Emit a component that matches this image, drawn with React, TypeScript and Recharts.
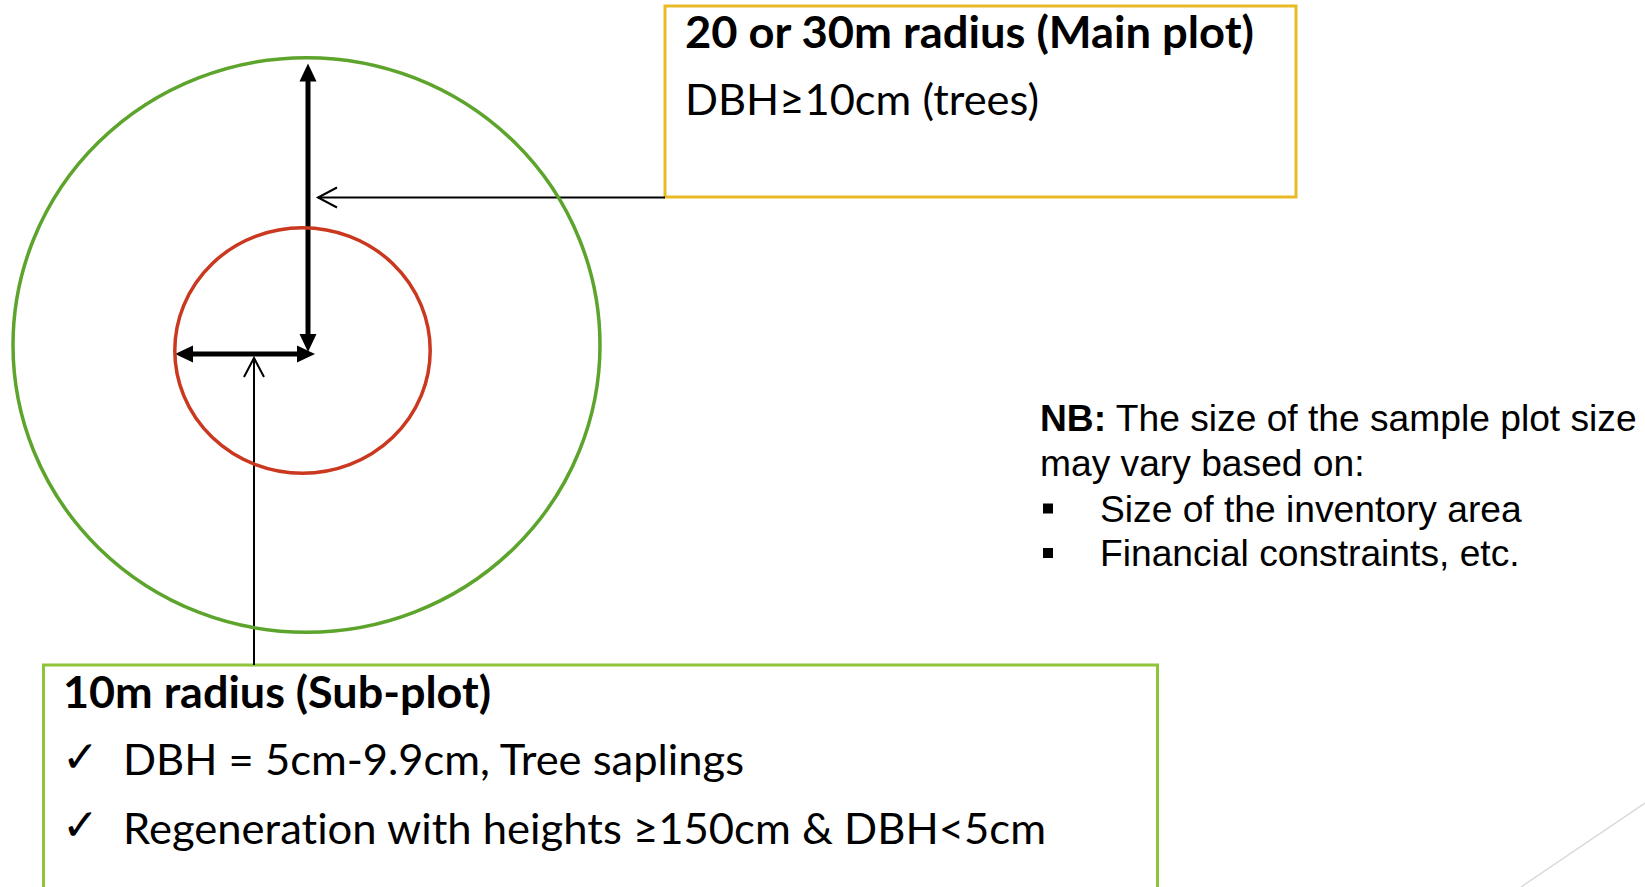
import { ComposedChart, XAxis, YAxis, Scatter, ReferenceArea, ReferenceLine } from 'recharts';

const W = 1645;
const H = 887;

// diagram units: x 0..1645, y 0..887 (top down)
const X_MAX = 1645;
const Y_MAX = 887;
const KX = W / X_MAX;
const KY = H / Y_MAX;

// plot circles (main plot, sub-plot)
const plotNames = ['Main plot', 'Sub-plot'];
const plotCenterX = [306.5, 302.5];
const plotCenterY = [345, 350.5];
const plotRadiusX = [293.5, 127.7];
const plotRadiusY = [287.3, 122.8];
const plotColors = ['#5DA42C', '#C9381F'];

// radius arrows and callout pointers
const arrowFromX = [308, 175, 665, 254];
const arrowFromY = [63.5, 354, 197.5, 665];
const arrowToX = [308, 315, 318, 254];
const arrowToY = [352, 354, 197.5, 358];
const arrowKinds = ['double', 'double', 'open', 'open'];

// callout boxes
const boxLeft = [665, 43.5];
const boxRight = [1296, 1157.5];
const boxTop = [6, 665];
const boxBottom = [197, 900];
const boxColors = ['#E9B926', '#8DC43A'];

// texts
const mainTitle = '20 or 30m radius (Main plot)';
const mainLines = ['DBH≥10cm (trees)'];
const subTitle = '10m radius (Sub-plot)';
const subItems = ['DBH = 5cm-9.9cm, Tree saplings', 'Regeneration with heights ≥150cm & DBH<5cm'];
const noteLead = 'NB:';
const noteLines = [' The size of the sample plot size', 'may vary based on:'];
const noteBullets = ['Size of the inventory area', 'Financial constraints, etc.'];

const plotData = plotNames.map((name, i) => ({
  name,
  x: plotCenterX[i],
  y: plotCenterY[i],
  rx: plotRadiusX[i],
  ry: plotRadiusY[i],
  color: plotColors[i],
}));

const CAL = 'Lato, "Open Sans", sans-serif';
const ARIAL = '"Liberation Sans", Arial, sans-serif';
const noLig = { fontVariantLigatures: 'none' as const };

function EllipseShape(props: any) {
  const { cx, cy, payload } = props;
  return (
    <ellipse
      cx={cx}
      cy={cy}
      rx={payload.rx * KX}
      ry={payload.ry * KY}
      fill="none"
      stroke={payload.color}
      strokeWidth={3.5}
    />
  );
}

function arrowShape(kind: string) {
  return (p: any) => {
    const x1 = Number(p.x1), y1 = Number(p.y1), x2 = Number(p.x2), y2 = Number(p.y2);
    const dx = x2 - x1;
    const dy = y2 - y1;
    const len = Math.hypot(dx, dy) || 1;
    const ux = dx / len;
    const uy = dy / len;
    const nx = -uy;
    const ny = ux;
    if (kind === 'double') {
      const L = 18;
      const hw = 8.5;
      const head = (tx: number, ty: number, sx: number, sy: number) =>
        `${tx},${ty} ${tx - sx * L + nx * hw},${ty - sy * L + ny * hw} ${tx - sx * L - nx * hw},${ty - sy * L - ny * hw}`;
      return (
        <g>
          <line x1={x1 + ux * (L - 2)} y1={y1 + uy * (L - 2)} x2={x2 - ux * (L - 2)} y2={y2 - uy * (L - 2)} stroke="#000" strokeWidth={5} />
          <polygon points={head(x2, y2, ux, uy)} fill="#000" />
          <polygon points={head(x1, y1, -ux, -uy)} fill="#000" />
        </g>
      );
    }
    const L = 19;
    const hw = 10;
    return (
      <g>
        <line x1={x1} y1={y1} x2={x2} y2={y2} stroke="#000" strokeWidth={2} />
        <polyline
          points={`${x2 - ux * L + nx * hw},${y2 - uy * L + ny * hw} ${x2},${y2} ${x2 - ux * L - nx * hw},${y2 - uy * L - ny * hw}`}
          fill="none"
          stroke="#000"
          strokeWidth={2}
        />
      </g>
    );
  };
}

export default function App() {
  return (
    <div style={{ position: 'absolute', left: 0, top: 0, width: W, height: H, background: '#fff', overflow: 'hidden' }}>
      <ComposedChart width={W} height={H} margin={{ top: 0, right: 0, bottom: 0, left: 0 }}>
        <XAxis type="number" dataKey="x" domain={[0, X_MAX]} hide allowDataOverflow />
        <YAxis type="number" dataKey="y" domain={[0, Y_MAX]} reversed hide allowDataOverflow />

        {/* slide decoration */}
        <ReferenceLine
          segment={[{ x: 1521, y: 887 }, { x: 1645, y: 803 }]}
          stroke="#D9D9D9"
          strokeWidth={1.5}
          ifOverflow="visible"
        />

        {boxLeft.map((l, i) => (
          <ReferenceArea
            key={`box-${i}`}
            x1={l}
            x2={boxRight[i]}
            y1={boxTop[i]}
            y2={boxBottom[i]}
            fill="none"
            fillOpacity={0}
            stroke={boxColors[i]}
            strokeWidth={3}
            strokeOpacity={1}
            ifOverflow="visible"
          />
        ))}

        <Scatter data={plotData} dataKey="y" shape={EllipseShape} isAnimationActive={false} />

        {arrowFromX.map((x, i) => (
          <ReferenceLine
            key={`arrow-${i}`}
            segment={[{ x, y: arrowFromY[i] }, { x: arrowToX[i], y: arrowToY[i] }]}
            ifOverflow="visible"
            shape={arrowShape(arrowKinds[i])}
          />
        ))}

        <g>
          <text x={685} y={48} fontFamily={CAL} fontWeight={700} fontSize={43} textLength={569} lengthAdjust="spacingAndGlyphs" fill="#000" style={noLig}>
            {mainTitle}
          </text>
          {mainLines.map((t, i) => (
            <text key={t} x={685} y={115 + i * 66} fontFamily={CAL} fontSize={43} textLength={354} lengthAdjust="spacingAndGlyphs" fill="#000" style={noLig}>
              {t}
            </text>
          ))}

          <text x={63} y={708} fontFamily={CAL} fontWeight={700} fontSize={43} textLength={428} lengthAdjust="spacingAndGlyphs" fill="#000" style={noLig}>
            {subTitle}
          </text>
          {subItems.map((t, i) => (
            <g key={t}>
              <text x={62} y={772 + i * 68} fontFamily='"DejaVu Sans", sans-serif' fontSize={44} fill="#000">
                ✓
              </text>
              <text x={123} y={775 + i * 68.5} fontFamily={CAL} fontSize={43} textLength={i === 0 ? 621 : 923} lengthAdjust="spacingAndGlyphs" fill="#000" style={noLig}>
                {t}
              </text>
            </g>
          ))}

          <text x={1040} y={431} fontFamily={ARIAL} fontSize={37.2} fill="#000">
            <tspan fontWeight={700}>{noteLead}</tspan>
            <tspan>{noteLines[0]}</tspan>
          </text>
          <text x={1040} y={476} fontFamily={ARIAL} fontSize={37.2} fill="#000">
            {noteLines[1]}
          </text>
          {noteBullets.map((t, i) => (
            <g key={t}>
              <rect x={1043} y={503.5 + i * 44.5} width={10} height={10} fill="#000" />
              <text x={1100} y={521.5 + i * 44.5} fontFamily={ARIAL} fontSize={37.2} fill="#000">
                {t}
              </text>
            </g>
          ))}
        </g>
      </ComposedChart>
    </div>
  );
}
